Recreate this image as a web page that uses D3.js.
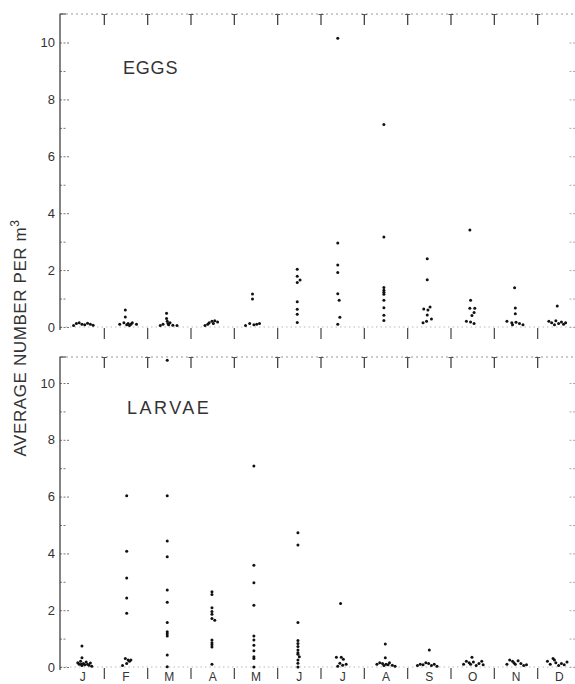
<!DOCTYPE html>
<html><head><meta charset="utf-8">
<script src="https://cdn.jsdelivr.net/npm/d3@7"></script>
<style>
html,body{margin:0;padding:0;background:#fff;}
text{font-family:"Liberation Sans","DejaVu Sans",sans-serif;fill:#333;}
</style></head>
<body><svg id="c" width="575" height="684"></svg>
<script>
// months
const months = ["J","F","M","A","M","J","J","A","S","O","N","D"];
const yTicks = [0,1,2,3,4,5,6,7,8,9,10];
// [monthIndex, day of month, average number per m3]
const eggs = [
 [0,9,0.05],[0,11,0.12],[0,13,0.15],[0,15,0.1],[0,17,0.08],[0,19,0.13],[0,21,0.1],[0,23,0.06],
 [1,11,0.1],[1,14,0.15],[1,15,0.6],[1,15,0.35],[1,16,0.08],[1,17,0.12],[1,18,0.05],[1,19,0.1],[1,20,0.15],[1,23,0.1],
 [2,9,0.05],[2,11,0.1],[2,13.5,0.48],[2,13.5,0.3],[2,14,0.2],[2,14.5,0.12],[2,15,0.08],[2,16,0.15],[2,18,0.06],[2,21,0.05],
 [3,10,0.05],[3,12,0.1],[3,13,0.15],[3,15,0.2],[3,16,0.12],[3,17,0.22],[3,19,0.18],
 [4,8,0.05],[4,11,0.12],[4,13,1.16],[4,13,0.98],[4,14,0.08],[4,16,0.1],[4,18,0.12],
 [5,14,2.03],[5,14,1.78],[5,14,1.56],[5,16,1.65],[5,14,0.89],[5,14,0.62],[5,14,0.45],[5,14,0.16],
 [6,12,10.15],[6,12,2.95],[6,12,2.18],[6,12,1.92],[6,12,1.17],[6,13,0.94],[6,13.5,0.34],[6,12,0.1],
 [7,14,7.12],[7,14,3.16],[7,14,1.39],[7,14,1.29],[7,14,1.22],[7,14,1.15],[7,14,0.94],[7,14,0.68],[7,14,0.41],[7,14,0.23],
 [8,14,2.4],[8,14,1.66],[8,16,0.7],[8,11.5,0.63],[8,14.5,0.6],[8,14,0.42],[8,17,0.28],[8,13.5,0.2],[8,11,0.15],
 [9,13.5,3.41],[9,14,0.94],[9,13.5,0.66],[9,17,0.66],[9,16.5,0.51],[9,15,0.4],[9,11,0.2],[9,14,0.18],[9,16.5,0.12],
 [10,14.5,1.38],[10,15,0.67],[10,15,0.47],[10,9,0.2],[10,12.5,0.15],[10,15.5,0.17],[10,18,0.12],[10,20.5,0.08],[10,13,0.08],
 [11,14,0.74],[11,8,0.2],[11,10,0.15],[11,12,0.08],[11,13,0.22],[11,15,0.12],[11,17,0.18],[11,18.5,0.1],[11,20,0.15]
];
const larvae = [
 [0,15,0.74],[0,15,0.33],[0,12,0.15],[0,13,0.1],[0,14,0.2],[0,15,0.05],[0,16,0.12],[0,17,0.08],[0,18,0.18],[0,19,0.1],[0,20,0.06],[0,21,0.14],[0,22,0.03],[0,14.5,0.1],
 [1,16,6.03],[1,16,4.08],[1,16,3.13],[1,16,2.43],[1,16,1.89],[1,15,0.3],[1,17,0.25],[1,18,0.2],[1,19,0.25],[1,16,0.12],[1,13,0.05],
 [2,14,10.8],[2,14,6.03],[2,14,4.44],[2,14,3.88],[2,14,2.71],[2,14,2.28],[2,14,1.57],[2,14,1.24],[2,14,1.17],[2,14,1.09],[2,14,0.42],[2,14,0.01],
 [3,15,2.65],[3,15,2.55],[3,15,2.09],[3,15,1.95],[3,15,1.86],[3,15,1.71],[3,17,1.65],[3,15,0.95],[3,15,0.85],[3,15,0.78],[3,15,0.7],[3,15,0.1],
 [4,14,7.08],[4,14,3.58],[4,14,2.97],[4,14,2.17],[4,14,1.09],[4,14,0.95],[4,14,0.77],[4,14,0.57],[4,14,0.36],[4,14,0.3],[4,14,0.0],
 [5,14.5,4.73],[5,14.5,4.3],[5,14.5,1.57],[5,14.5,0.93],[5,14.5,0.83],[5,14.5,0.72],[5,14.5,0.6],[5,14.5,0.5],[5,14.5,0.45],[5,15.5,0.36],[5,14.5,0.25],[5,14.5,0.13],[5,14.5,0.0],
 [6,14,2.24],[6,11,0.34],[6,14.5,0.34],[6,16,0.27],[6,13.5,0.13],[6,15.5,0.06],[6,18,0.1],[6,12,0.03],
 [7,15,0.81],[7,15,0.33],[7,9,0.1],[7,11,0.15],[7,13,0.12],[7,14,0.05],[7,15.5,0.1],[7,17,0.08],[7,18,0.15],[7,20,0.06],[7,22,0.03],
 [8,15.5,0.6],[8,7,0.05],[8,9,0.1],[8,11,0.08],[8,13,0.15],[8,15,0.12],[8,17,0.05],[8,19,0.1],[8,21,0.03],
 [9,15,0.34],[9,9,0.1],[9,11,0.2],[9,13,0.15],[9,14,0.1],[9,16,0.18],[9,18,0.05],[9,20,0.12],[9,22,0.2],[9,23,0.08],
 [10,9,0.1],[10,11,0.25],[10,13,0.2],[10,14,0.15],[10,15,0.1],[10,17,0.22],[10,19,0.12],[10,21,0.05],[10,23,0.08],
 [11,7,0.2],[11,9,0.1],[11,11,0.3],[11,12,0.25],[11,13,0.15],[11,15,0.05],[11,17,0.12],[11,19,0.08],[11,21,0.18]
];

const svg = d3.select("#c");
const xBand = d3.scaleBand().domain(d3.range(12)).range([61, 581]).paddingInner(0).paddingOuter(0);
const xDay = d3.scaleLinear().domain([0, 31]).range([0, xBand.bandwidth()]);
const xRight = 567;

function panel(data, top, y0, y10, label, labelX, labelY, spacing, showMonths) {
  const y = d3.scaleLinear().domain([0, 10]).range([y0, y10]);
  const g = svg.append("g");
  // top border (dotted)
  g.append("line").attr("x1", 61).attr("x2", xRight + 6).attr("y1", top).attr("y2", top)
    .attr("stroke", "#999").attr("stroke-width", 1).attr("stroke-dasharray", "2,3");
  // top T ticks at month boundaries
  const bounds = d3.range(1, 12).map(i => xBand(i));
  bounds.forEach(bx => {
    g.append("line").attr("x1", bx).attr("x2", bx).attr("y1", top).attr("y2", top + 11)
      .attr("stroke", "#444").attr("stroke-width", 1.3);
    g.append("line").attr("x1", bx - 2.5).attr("x2", bx + 2.5).attr("y1", top + 0.5).attr("y2", top + 0.5)
      .attr("stroke", "#555").attr("stroke-width", 1);
  });
  // baseline (dotted)
  g.append("line").attr("x1", 61).attr("x2", xRight + 8).attr("y1", y0).attr("y2", y0)
    .attr("stroke", "#aaa").attr("stroke-width", 0.8).attr("stroke-dasharray", "1.5,3");
  bounds.forEach(bx => {
    g.append("line").attr("x1", bx).attr("x2", bx).attr("y1", y0 + 1).attr("y2", y0 + 12)
      .attr("stroke", "#444").attr("stroke-width", 1.2);
  });
  // left axis
  const ax = d3.axisLeft(y).tickValues(yTicks).tickSize(-10).tickPadding(5)
    .tickFormat(d => d % 2 === 0 ? d : "");
  const ag = g.append("g").attr("transform", "translate(60,0)").call(ax);
  ag.select(".domain").remove();
  ag.selectAll(".tick line").attr("stroke", "#777").attr("stroke-dasharray", "2,1.5")
    .attr("x2", d => d % 2 === 0 ? 10 : 6);
  ag.selectAll(".tick text").attr("font-size", 13).attr("fill", "#444");
  g.append("path").attr("d", `M60,${y0 + 3}V${top}H66`).attr("fill", "none")
    .attr("stroke", "#333").attr("stroke-width", 1.2);
  // right axis inward ticks
  const ar = d3.axisRight(y).tickValues(yTicks).tickSize(-7).tickFormat("");
  const rg = g.append("g").attr("transform", `translate(${xRight + 8},0)`).call(ar);
  rg.select(".domain").remove();
  rg.selectAll(".tick line").attr("stroke", "#aaa").attr("stroke-dasharray", "2,1.5");
  // label
  g.append("text").attr("x", labelX).attr("y", labelY).attr("font-size", 18)
    .attr("letter-spacing", spacing).attr("fill", "#222").text(label);
  // points
  g.selectAll("circle.pt").data(data).join("circle").attr("class", "pt")
    .attr("cx", d => xBand(d[0]) + xDay(d[1]))
    .attr("cy", d => y(d[2]))
    .attr("r", 1.5).attr("fill", "#111");
  if (showMonths) {
    const ab = d3.axisBottom(xBand).tickSize(0).tickPadding(0).tickFormat(i => months[i]);
    const bg = g.append("g").attr("transform", `translate(0,${y0})`).call(ab);
    bg.select(".domain").remove();
    bg.selectAll(".tick text").attr("font-size", 12).attr("fill", "#444")
      .attr("dy", null).attr("y", 13.5).attr("dominant-baseline", "auto");
  }
}

panel(eggs, 14, 327, 42.5, "EGGS", 123, 74, 0.8, false);
panel(larvae, 357, 667, 383, "LARVAE", 127, 414, 2.5, true);

svg.append("text").attr("transform", "translate(26,338) rotate(-90)")
  .attr("text-anchor", "middle").attr("font-size", 17).attr("letter-spacing", 0.6).attr("fill", "#333")
  .html('AVERAGE NUMBER PER m<tspan dy="-7" font-size="12">3</tspan>');
</script></body></html>
